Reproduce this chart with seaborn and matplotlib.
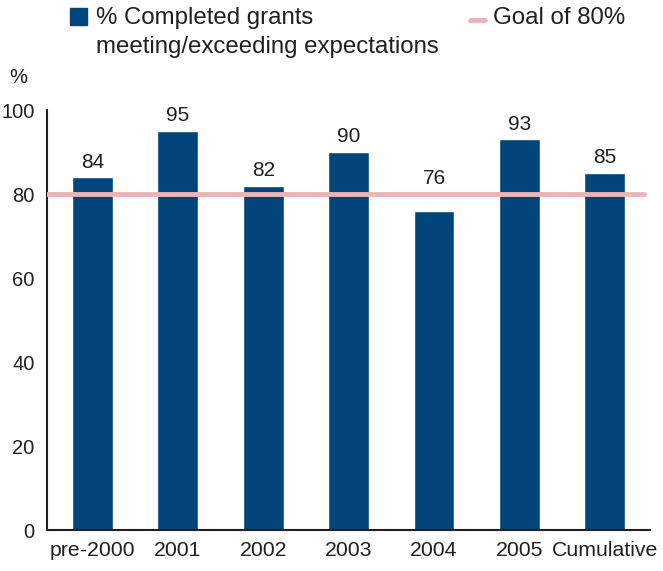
import matplotlib
matplotlib.use("Agg")
import matplotlib.pyplot as plt
from matplotlib.patches import Rectangle
from matplotlib.lines import Line2D
import seaborn as sns
import pandas as pd

categories = ["pre-2000", "2001", "2002", "2003", "2004", "2005", "Cumulative"]
pct_meeting = [84, 95, 82, 90, 76, 93, 85]
goal = 80
y_ticks = [0, 20, 40, 60, 80, 100]

BAR_BLUE = "#01457c"
GOAL_PINK = "#ebb5b8"
TEXT = "#231f20"

sns.set_theme(style="white")
plt.rcParams["font.family"] = ["Liberation Sans", "DejaVu Sans"]

df = pd.DataFrame({"category": categories, "pct": pct_meeting})

fig = plt.figure(figsize=(6.63, 5.71), dpi=100)
ax = fig.add_axes([0.0709, 0.0718, 0.9091, 0.7355])

sns.barplot(data=df, x="category", y="pct", color=BAR_BLUE, saturation=1,
            width=0.48, ax=ax, zorder=2)

ax.axhline(goal, xmax=0.99, color=GOAL_PINK, lw=3.5, zorder=3)

# value labels sit above the bar, or above the goal line when the bar is below it
for i, v in enumerate(pct_meeting):
    ax.annotate(f"{v}", (i, max(v, goal)), xytext=(0, 4), textcoords="offset points",
                ha="center", va="bottom", fontsize=15, color=TEXT)

ax.set_ylim(0, 100)
ax.set_xlim(-0.533, 6.527)
ax.set_yticks(y_ticks)
ax.tick_params(axis="y", length=0, pad=9, labelsize=14.5, labelcolor=TEXT)
ax.tick_params(axis="x", length=0, pad=8, labelsize=15.3, labelcolor=TEXT)
ax.set_xlabel("")
ax.set_ylabel("")
for s in ["top", "right"]:
    ax.spines[s].set_visible(False)
for s in ["left", "bottom"]:
    ax.spines[s].set_color(TEXT)
    ax.spines[s].set_linewidth(1.5)

fig.text(18 / 663, 1 - 78 / 571, "%", fontsize=14.5, color=TEXT, ha="center", va="center")

# legend
fig.patches.append(Rectangle((70 / 663, 1 - 25 / 571), 17 / 663, 17 / 571,
                             transform=fig.transFigure, color=BAR_BLUE))
fig.text(96 / 663, 1 - 7 / 571,
         "% Completed grants\nmeeting/exceeding expectations",
         fontsize=17.3, color=TEXT, ha="left", va="top", linespacing=1.42)
fig.lines.append(Line2D([470 / 663, 485 / 663], [1 - 20 / 571, 1 - 20 / 571],
                        transform=fig.transFigure, color=GOAL_PINK, lw=3.5))
fig.text(493 / 663, 1 - 7 / 571, "Goal of 80%", fontsize=17.3, color=TEXT,
         ha="left", va="top")

fig.savefig("out.png", dpi=100)
